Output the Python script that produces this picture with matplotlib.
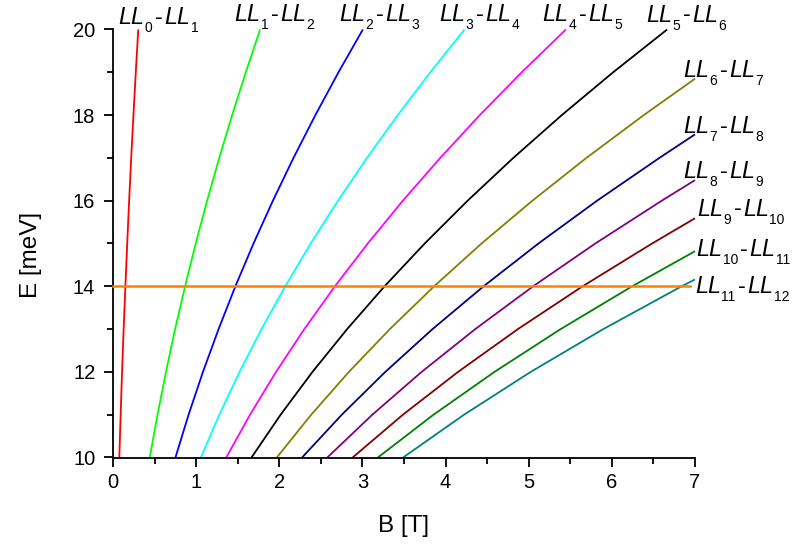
import matplotlib
matplotlib.use("Agg")
import matplotlib.pyplot as plt
from matplotlib.ticker import MultipleLocator

# ---------------- data ----------------
transitions = ["0-1", "1-2", "2-3", "3-4", "4-5", "5-6",
               "6-7", "7-8", "8-9", "9-10", "10-11", "11-12"]

E_full = [10, 11, 12, 13, 14, 15, 16, 17, 18, 19, 20]
B_01 = [0.076, 0.092, 0.109, 0.128, 0.149, 0.171, 0.194, 0.219, 0.246, 0.274, 0.304]
B_12 = [0.442, 0.535, 0.637, 0.747, 0.867, 0.995, 1.132, 1.278, 1.433, 1.597, 1.769]
B_23 = [0.751, 0.909, 1.082, 1.270, 1.472, 1.690, 1.923, 2.171, 2.434, 2.712, 3.005]
B_34 = [1.057, 1.279, 1.522, 1.786, 2.072, 2.378, 2.706, 3.055, 3.425, 3.816, 4.228]
B_45 = [1.362, 1.648, 1.961, 2.301, 2.669, 3.064, 3.486, 3.936, 4.412, 4.916, 5.447]
B_56 = [1.666, 2.016, 2.399, 2.816, 3.266, 3.749, 4.265, 4.815, 5.398, 6.015, 6.665]

E_67 = [10, 11, 12, 13, 14, 15, 16, 17, 18, 18.85]
B_67 = [1.970, 2.384, 2.837, 3.330, 3.862, 4.433, 5.044, 5.694, 6.384, 7.0]
E_78 = [10, 11, 12, 13, 14, 15, 16, 17, 17.55]
B_78 = [2.274, 2.752, 3.275, 3.843, 4.457, 5.117, 5.822, 6.572, 7.0]
E_89 = [10, 11, 12, 13, 14, 15, 16, 16.48]
B_89 = [2.578, 3.119, 3.712, 4.357, 5.053, 5.801, 6.600, 7.0]
E_910 = [10, 11, 12, 13, 14, 15, 15.59]
B_910 = [2.882, 3.487, 4.150, 4.870, 5.648, 6.484, 7.0]
E_1011 = [10, 11, 12, 13, 14, 14.82]
B_1011 = [3.186, 3.855, 4.588, 5.384, 6.244, 7.0]
E_1112 = [10, 11, 12, 13, 14, 14.16]
B_1112 = [3.489, 4.222, 5.024, 5.897, 6.839, 7.0]

# reference (photon) energy line
B_ref = [0.0, 3.46, 3.46, 6.94]
E_ref = [14.0, 14.0, 14.01, 14.01]

colors = ["#FF0000", "#00FF00", "#0000FF", "#00FFFF", "#FF00FF", "#000000",
          "#808000", "#000080", "#800080", "#800000", "#008000", "#008080"]

curves_B = [B_01, B_12, B_23, B_34, B_45, B_56, B_67, B_78, B_89, B_910, B_1011, B_1112]
curves_E = [E_full] * 6 + [E_67, E_78, E_89, E_910, E_1011, E_1112]

# label anchors: (left edge px, baseline px from top)
label_pos = [(118, 24), (234, 20.7), (339, 20.7), (439, 20.7), (542, 20.7), (646, 21.5),
             (683, 77), (683, 133), (683, 178), (697, 215.5), (696, 256), (695, 293)]

# ---------------- figure ----------------
W, H = 793, 546
base_font = "Liberation Sans"
plt.rcParams["font.family"] = [base_font, "DejaVu Sans"]

fig = plt.figure(figsize=(W / 100, H / 100), dpi=100)
ax = fig.add_axes([113 / W, 1 - 457.5 / H, (695 - 113) / W, (457.5 - 29.5) / H])

for Bs, Es, c in zip(curves_B, curves_E, colors):
    ax.plot(Bs, Es, color=c, lw=1.3, solid_capstyle="butt", clip_on=False, zorder=2)
ax.plot(B_ref, E_ref, color="#FF8000", lw=1.8, zorder=3, clip_on=False)

ax.set_xlim(0, 7)
ax.set_ylim(10, 20)
ax.xaxis.set_major_locator(MultipleLocator(1))
ax.xaxis.set_minor_locator(MultipleLocator(0.5))
ax.yaxis.set_major_locator(MultipleLocator(2))
ax.yaxis.set_minor_locator(MultipleLocator(1))

for s in ["top", "right"]:
    ax.spines[s].set_visible(False)
for s in ["left", "bottom"]:
    ax.spines[s].set_linewidth(1.3)

ax.tick_params(which="major", direction="out", length=6.7, width=1.3,
               labelsize=14.5, colors="black")
ax.tick_params(which="minor", direction="out", length=4, width=1.3)
ax.tick_params(axis="x", which="major", pad=4.5)
ax.tick_params(axis="y", which="major", pad=6)

ax.set_xlabel("B [T]", fontsize=17.5)
ax.set_ylabel("E [meV]", fontsize=17.5)
ax.xaxis.set_label_coords(0.5, (457.5 - 515) / 428)
ax.yaxis.set_label_coords((42 - 113) / 582, (457.5 - 255) / 428)

# ---------------- labels built from pieces (italic LL, small subscripts) ----------------
fig.canvas.draw()
renderer = fig.canvas.get_renderer()
MAIN = 16.8
SUB = 10
SUB_DROP = 8.3  # px


def put(xpx, ybase, txt, size, style):
    t = fig.text(xpx / W, (H - ybase) / H, txt, fontsize=size, fontstyle=style,
                 ha="left", va="baseline", color="black")
    bb = t.get_window_extent(renderer=renderer)
    return bb.x1


for name, (lx, ly) in zip(transitions, label_pos):
    a, b = name.split("-")
    x = lx
    x = put(x, ly, "LL", MAIN, "italic") + 0.5
    x = put(x, ly + SUB_DROP, a, SUB, "normal") + 2.5
    x = put(x, ly, "-", MAIN, "normal") + 1.5
    x = put(x, ly, "LL", MAIN, "italic") + 0.5
    put(x, ly + SUB_DROP, b, SUB, "normal")

fig.savefig("out.png", dpi=100)
